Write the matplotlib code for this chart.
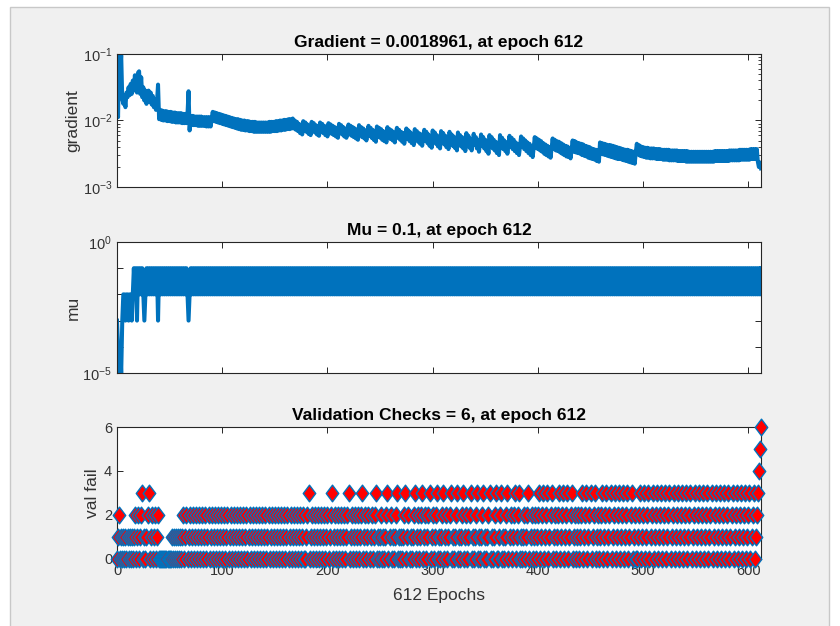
import numpy as np
import matplotlib
matplotlib.use("Agg")
import matplotlib.pyplot as plt
from matplotlib.patches import Rectangle
from matplotlib.path import Path
from matplotlib.ticker import FixedLocator, FuncFormatter, NullLocator, LogLocator, NullFormatter

plt.rcParams['font.family'] = ['Liberation Sans', 'DejaVu Sans']
plt.rcParams['mathtext.fontset'] = 'custom'
plt.rcParams['mathtext.rm'] = 'Liberation Sans'
plt.rcParams['mathtext.it'] = 'Liberation Sans:italic'
plt.rcParams['mathtext.bf'] = 'Liberation Sans:bold'

# ---------------- data ----------------
TITLES = ["Gradient = 0.0018961, at epoch 612",
          "Mu = 0.1, at epoch 612",
          "Validation Checks = 6, at epoch 612"]
Y_LABELS = ["gradient", "mu", "val fail"]
X_LABEL = "612 Epochs"
X_TICKS = [0, 100, 200, 300, 400, 500, 600]
VALFAIL_TICKS = [0, 2, 4, 6]
N_EPOCHS = 612

# gradient per epoch 0..612, stored as -100*log10(gradient)
GRAD_NEGLOG100 = [
    148, 195, 100, 125, 102, 168, 175, 163, 180, 158,
    165, 150, 162, 145, 160, 140, 155, 132, 150, 158,
    128, 126, 160, 135, 165, 150, 170, 155, 175, 160,
    155, 172, 158, 176, 163, 180, 168, 184, 172, 146,
    198, 184, 199, 185, 200, 186, 200, 186, 201, 187,
    201, 187, 202, 188, 202, 188, 203, 189, 203, 189,
    203, 189, 204, 190, 204, 190, 204, 190, 156, 215,
    193, 207, 193, 207, 194, 207, 194, 208, 194, 208,
    194, 208, 195, 208, 195, 209, 195, 209, 195, 209,
    196, 187, 201, 188, 202, 189, 203, 190, 204, 191,
    205, 192, 206, 193, 207, 194, 208, 195, 209, 196,
    210, 197, 211, 198, 212, 198, 213, 199, 214, 200,
    214, 200, 215, 201, 215, 201, 216, 202, 216, 202,
    217, 202, 217, 203, 217, 203, 217, 203, 217, 203,
    217, 203, 217, 203, 217, 202, 217, 202, 216, 202,
    216, 201, 216, 201, 215, 200, 215, 200, 214, 199,
    214, 199, 213, 198, 213, 198, 212, 197, 212, 200,
    214, 202, 216, 205, 219, 207, 221, 201, 215, 203,
    217, 206, 220, 208, 222, 202, 216, 204, 218, 207,
    221, 209, 223, 203, 217, 205, 219, 208, 222, 210,
    224, 204, 218, 206, 220, 208, 222, 210, 224, 212,
    226, 205, 219, 207, 221, 210, 224, 212, 226, 214,
    206, 221, 208, 223, 210, 225, 212, 227, 214, 229,
    207, 222, 210, 225, 212, 227, 215, 230, 217, 208,
    223, 211, 226, 214, 229, 217, 232, 209, 224, 211,
    226, 213, 229, 216, 231, 218, 233, 210, 225, 213,
    228, 215, 230, 218, 233, 220, 211, 226, 214, 229,
    217, 232, 219, 235, 222, 212, 228, 215, 231, 218,
    234, 221, 237, 213, 229, 216, 232, 219, 235, 221,
    238, 224, 214, 231, 217, 234, 221, 238, 224, 241,
    215, 232, 218, 235, 222, 239, 225, 242, 216, 233,
    219, 236, 223, 240, 226, 243, 217, 234, 221, 238,
    224, 241, 228, 245, 218, 235, 222, 239, 225, 242,
    229, 246, 219, 236, 223, 241, 228, 245, 232, 220,
    237, 225, 242, 229, 247, 234, 221, 238, 225, 242,
    229, 246, 233, 250, 222, 239, 225, 242, 229, 245,
    232, 249, 235, 252, 222, 239, 226, 243, 230, 246,
    233, 250, 237, 223, 240, 226, 243, 229, 246, 233,
    249, 236, 252, 239, 224, 240, 227, 243, 230, 246,
    233, 249, 235, 252, 238, 255, 241, 225, 241, 227,
    243, 229, 245, 231, 247, 234, 250, 236, 252, 238,
    254, 240, 256, 242, 227, 243, 229, 245, 231, 246,
    232, 248, 234, 250, 236, 252, 238, 254, 239, 255,
    241, 257, 243, 230, 247, 231, 248, 233, 249, 234,
    250, 235, 252, 236, 253, 238, 254, 239, 256, 240,
    257, 242, 258, 243, 259, 244, 261, 245, 262, 233,
    250, 234, 251, 235, 252, 236, 253, 237, 254, 237,
    255, 238, 256, 239, 257, 240, 258, 241, 258, 242,
    259, 243, 260, 244, 261, 244, 262, 245, 263, 246,
    264, 247, 265, 248, 235, 251, 237, 253, 239, 254,
    240, 255, 241, 256, 241, 256, 242, 257, 242, 257,
    242, 257, 243, 258, 243, 258, 243, 258, 244, 259,
    244, 259, 244, 259, 244, 260, 245, 260, 245, 260,
    245, 260, 245, 261, 246, 261, 246, 261, 246, 261,
    246, 262, 246, 262, 247, 262, 247, 262, 247, 262,
    247, 262, 247, 262, 247, 262, 247, 262, 247, 262,
    247, 262, 247, 262, 247, 262, 247, 262, 246, 261,
    246, 261, 246, 261, 246, 261, 246, 261, 246, 261,
    246, 261, 245, 260, 245, 260, 245, 260, 245, 260,
    245, 260, 244, 259, 244, 259, 244, 259, 244, 259,
    244, 259, 243, 258, 243, 258, 243, 258, 243, 262,
    270, 263, 272,
]

# mu per epoch: digit d means mu = 10^-d  (one group of ten per decade of epochs)
MU_EXPONENTS = """
3454532232 2322321213 1212123212 1212121213 1212121212 1212121212 1212121232
1212121212 1212121212 1212121212 1212121212 1212121212 1212121212 1212121212
1212121212 1212121212 1212121212 1212121212 1212121212 1212121212 1212121212
1212121212 1212121212 1212121212 1212121212 1212121212 1212121212 1212121212
1212121212 1212121212 1212121212 1212121212 1212121212 1212121212 1212121212
1212121212 1212121212 1212121212 1212121212 1212121212 1212121212 1212121212
1212121212 1212121212 1212121212 1212121212 1212121212 1212121212 1212121212
1212121212 1212121212 1212121212 1212121212 1212121212 1212121212 1212121212
1212121212 1212121212 1212121212 1212121212 1212121212 121
"""

# validation checks per epoch
VAL_FAIL = """
0120101010 1010101201 2012301012 3012012012 0000000000 0010101010 1012012012
0120120120 1201201201 2012012012 0120120120 1201201201 2012012012 0120120120
1201201201 2012012012 0120120120 1201201200 1230120120 1201201201 2012301201
2012012012 3012012012 0123012012 0120123010 1201012301 2010123010 1012301201
0123012012 3012012301 2012301012 3012012301 0123010123 0120123010 1230101230
1012301012 3001230101 2301201230 1230101201 2301201201 2301230123 0123012012
3012301230 1230120120 1230123012 3012301201 2301230123 0123012301 2301230123
0120012301 2301230123 0123012301 2301230123 0123012301 2301230123 0123012301
2301230123 0123012301 2301230123 0123012301 2301230123 456
"""

# ---------------- decode ----------------
grad = 10.0 ** (-np.array(GRAD_NEGLOG100, dtype=float) / 100.0)
mu = 10.0 ** (-np.array([int(c) for c in "".join(MU_EXPONENTS.split())], dtype=float))
vf = np.array([int(c) for c in "".join(VAL_FAIL.split())], dtype=float)
ep_g = np.arange(len(grad))
ep_m = np.arange(len(mu))
ep_v = np.arange(len(vf))

# ---------------- style ----------------
BLUE = '#0072BD'
AX_COL = '#262626'
TXT_COL = '#333333'
W, H = 840, 626

fig = plt.figure(figsize=(8.4, 6.26), dpi=100)
fig.patch.set_facecolor('white')
fig.add_artist(Rectangle((10 / W, -0.01), 819 / W, 1.01 - 7 / H,
                         transform=fig.transFigure, facecolor='#f0f0f0',
                         edgecolor='#c8c8c8', lw=1.0, zorder=-5))

def px_axes(left, top, right, bottom):
    return fig.add_axes([left / W, 1 - bottom / H, (right - left) / W, (bottom - top) / H])

ax1 = px_axes(117, 54, 761, 187)
ax2 = px_axes(117, 242, 761, 373)
ax3 = px_axes(117, 427, 761, 559)

for ax in (ax1, ax2, ax3):
    ax.set_facecolor('white')
    for s in ax.spines.values():
        s.set_color(AX_COL)
        s.set_linewidth(0.8)
    ax.set_xlim(0, N_EPOCHS)
    ax.xaxis.set_major_locator(FixedLocator(X_TICKS))
    ax.tick_params(which='both', direction='in', top=True, right=True,
                   colors=AX_COL, labelcolor=TXT_COL, labelsize=10.5)
    ax.tick_params(which='major', length=4.5, width=0.7)
    ax.tick_params(which='minor', length=2.5, width=0.6)

# gradient
ax1.plot(ep_g, grad, color=BLUE, lw=2.9, solid_joinstyle='round')
ax1.set_yscale('log')
ax1.set_ylim(1e-3, 1e-1)
ax1.yaxis.set_major_locator(FixedLocator([1e-3, 1e-2, 1e-1]))
ax1.yaxis.set_minor_locator(LogLocator(base=10, subs=np.arange(2, 10), numticks=20))
ax1.yaxis.set_minor_formatter(NullFormatter())
ax1.yaxis.set_major_formatter(FuncFormatter(lambda v, p: r'$10^{%d}$' % round(np.log10(v))))
ax1.set_xticklabels([])

# mu
ax2.plot(ep_m, mu, color=BLUE, lw=2.9, solid_joinstyle='round')
ax2.set_yscale('log')
ax2.set_ylim(1e-5, 1e0)
ax2.yaxis.set_major_locator(FixedLocator([1e-5, 1e-4, 1e-3, 1e-2, 1e-1, 1e0]))
ax2.yaxis.set_minor_locator(NullLocator())
def mu_fmt(v, p):
    e = round(np.log10(v))
    return r'$10^{%d}$' % e if e in (-5, 0) else ''
ax2.yaxis.set_major_formatter(FuncFormatter(mu_fmt))
ax2.set_xticklabels([])

# validation checks
diamond = Path([(0, 1), (0.75, 0), (0, -1), (-0.75, 0), (0, 1)],
               [Path.MOVETO, Path.LINETO, Path.LINETO, Path.LINETO, Path.CLOSEPOLY])
ax3.plot(ep_v, vf, linestyle='none', marker=diamond, markersize=12,
         markerfacecolor='#ff0000', markeredgecolor=BLUE, markeredgewidth=1.0,
         clip_on=False, zorder=3)
ax3.set_ylim(0, 6)
ax3.yaxis.set_major_locator(FixedLocator(VALFAIL_TICKS))
ax3.yaxis.set_minor_locator(NullLocator())

# texts
for ax, t in zip((ax1, ax2, ax3), TITLES):
    ax.set_title(t, fontsize=12.5, fontweight='bold', color='black', pad=5)
ax1.set_ylabel(Y_LABELS[0], fontsize=12.5, color=TXT_COL)
ax2.set_ylabel(Y_LABELS[1], fontsize=12.5, color=TXT_COL)
ax3.set_ylabel(Y_LABELS[2], fontsize=12.5, color=TXT_COL)
ax1.yaxis.set_label_coords(-0.057, 0.5)
ax2.yaxis.set_label_coords(-0.056, 0.5)
ax3.yaxis.set_label_coords(-0.026, 0.5)
ax3.set_xlabel(X_LABEL, fontsize=12.5, color=TXT_COL, labelpad=7)

fig.savefig('out.png', dpi=100, facecolor=fig.get_facecolor())
